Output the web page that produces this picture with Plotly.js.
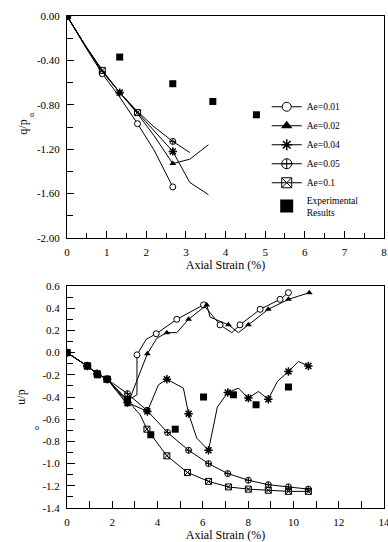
<!DOCTYPE html>
<html>
<head>
<meta charset="utf-8">
<script src="https://cdn.plot.ly/plotly-3.0.1.min.js"></script>
<style>html,body{margin:0;padding:0;background:#fff;}#chart{width:388px;height:542px;}</style>
</head>
<body>
<div id="chart"></div>
<script>
// ---------- DATA: top chart (q/p' vs axial strain) ----------
var seriesNames = ['Ae=0.01', 'Ae=0.02', 'Ae=0.04', 'Ae=0.05', 'Ae=0.1'];
var expName = 'Experimental<br>Results';

var top01X = [0, 0.45, 0.89, 1.33, 1.78, 2.2, 2.67];
var top01Y = [0, -0.27, -0.52, -0.73, -0.97, -1.21, -1.54];
var top01M = [1, 0, 1, 0, 1, 0, 1];

var top02X = [0, 0.45, 0.89, 1.33, 1.78, 2.2, 2.67, 3.1, 3.57];
var top02Y = [0, -0.26, -0.50, -0.69, -0.88, -1.08, -1.33, -1.29, -1.16];
var top02M = [1, 0, 0, 1, 0, 0, 1, 0, 0];

var top04X = [0, 0.45, 0.89, 1.33, 1.78, 2.2, 2.67, 3.1, 3.57];
var top04Y = [0, -0.26, -0.50, -0.69, -0.87, -1.04, -1.22, -1.50, -1.61];
var top04M = [1, 0, 0, 1, 0, 0, 1, 0, 0];

var top05X = [0, 0.45, 0.89, 1.33, 1.78, 2.2, 2.67, 3.1];
var top05Y = [0, -0.26, -0.49, -0.69, -0.86, -1.00, -1.13, -1.23];
var top05M = [1, 0, 0, 0, 0, 0, 1, 0];

var top10X = [0, 0.45, 0.89, 1.33, 1.78];
var top10Y = [0, -0.26, -0.49, -0.69, -0.87];
var top10M = [1, 0, 1, 0, 1];

var topExpX = [0, 1.33, 2.67, 3.68, 4.78];
var topExpY = [0, -0.37, -0.61, -0.77, -0.89];

// ---------- DATA: bottom chart (u/p' vs axial strain) ----------
var bot01X = [0, 0.89, 1.33, 1.78, 2.67, 3.09, 3.09, 3.5, 3.94, 4.85, 6.03, 6.76, 7.28, 7.64, 8.53, 9.41, 9.78];
var bot01Y = [0, -0.12, -0.19, -0.24, -0.43, -0.38, -0.02, 0.12, 0.17, 0.30, 0.43, 0.25, 0.18, 0.25, 0.39, 0.48, 0.54];
var bot01M = [1, 1, 1, 1, 1, 0, 1, 0, 1, 1, 1, 1, 0, 1, 1, 1, 1];

var bot02X = [0, 0.89, 1.33, 1.78, 2.67, 3.55, 3.97, 4.41, 4.85, 5.37, 6.17, 6.32, 7.13, 7.57, 8.01, 8.89, 9.78, 10.7];
var bot02Y = [0, -0.12, -0.19, -0.24, -0.47, -0.01, 0.13, 0.18, 0.18, 0.30, 0.43, 0.32, 0.25, 0.18, 0.25, 0.39, 0.48, 0.54];
var bot02M = [1, 1, 1, 1, 1, 1, 0, 1, 0, 1, 1, 0, 1, 0, 1, 1, 1, 1];

var bot04X = [0, 0.89, 1.33, 1.78, 2.67, 3.55, 4.04, 4.41, 5.14, 5.37, 5.73, 6.25, 6.64, 7.1, 7.57, 8.01, 8.45, 8.89, 9.29, 9.78, 10.22, 10.66];
var bot04Y = [0, -0.12, -0.19, -0.24, -0.45, -0.53, -0.29, -0.24, -0.32, -0.55, -0.77, -0.88, -0.49, -0.36, -0.32, -0.41, -0.35, -0.42, -0.26, -0.17, -0.08, -0.12];
var bot04M = [1, 1, 1, 1, 1, 1, 0, 1, 0, 1, 0, 1, 0, 1, 0, 1, 0, 1, 0, 1, 0, 1];

var bot05X = [0, 0.89, 1.33, 1.78, 2.67, 3.53, 4.44, 5.37, 6.25, 7.1, 8.01, 8.89, 9.78, 10.66];
var bot05Y = [0, -0.12, -0.19, -0.24, -0.37, -0.52, -0.72, -0.88, -1.00, -1.09, -1.15, -1.19, -1.21, -1.23];
var bot05M = [1, 1, 1, 1, 1, 1, 1, 1, 1, 1, 1, 1, 1, 1];

var bot10X = [0, 0.89, 1.33, 1.78, 2.67, 3.23, 3.53, 4.41, 5.32, 6.25, 7.13, 8.01, 8.89, 9.78, 10.66];
var bot10Y = [0, -0.12, -0.19, -0.24, -0.43, -0.56, -0.69, -0.93, -1.08, -1.16, -1.21, -1.23, -1.24, -1.25, -1.25];
var bot10M = [1, 1, 1, 1, 1, 0, 1, 1, 1, 1, 1, 1, 1, 1, 1];

var botExpX = [0, 0.91, 1.35, 1.76, 2.67, 3.7, 4.78, 6.03, 7.35, 8.35, 9.78];
var botExpY = [0, -0.12, -0.20, -0.24, -0.42, -0.74, -0.69, -0.40, -0.38, -0.47, -0.31];

// ---------- tick labels ----------
var topXTickVals = [0, 1, 2, 3, 4, 5, 6, 7, 8];
var topXTickText = ['0', '1', '2', '3', '4', '5', '6', '7', '8'];
var topYTickVals = [0, -0.4, -0.8, -1.2, -1.6, -2.0];
var topYTickText = ['0.00', '-0.40', '-0.80', '-1.20', '-1.60', '-2.00'];
var botXTickVals = [0, 2, 4, 6, 8, 10, 12, 14];
var botXTickText = ['0', '2', '4', '6', '8', '10', '12', '14'];
var botYTickVals = [0.6, 0.4, 0.2, 0.0, -0.2, -0.4, -0.6, -0.8, -1.0, -1.2, -1.4];
var botYTickText = ['0.6', '0.4', '0.2', '0.0', '-0.2', '-0.4', '-0.6', '-0.8', '-1.0', '-1.2', '-1.4'];

// ---------- styles ----------
var FONT = "'Liberation Serif', 'Times New Roman', serif";
var styles = [
  {symbol: 'circle', color: '#fff', lc: '#000', lw: 1, size: 6, lsize: 9},
  {symbol: 'triangle-up', color: '#000', lc: '#000', lw: 0, size: 6, lsize: 10},
  {symbol: 'asterisk-open', color: '#000', lc: '#000', lw: 1.5, size: 7, lsize: 9},
  {symbol: 'circle-cross-open', color: '#000', lc: '#000', lw: 1, size: 6, lsize: 10},
  {symbol: 'square-x-open', color: '#000', lc: '#000', lw: 1, size: 6, lsize: 10}
];

function pick(arr, m) { return arr.filter(function (v, i) { return m[i]; }); }

var traces = [];
function addSeries(xs, ys, ms, st, xa, ya) {
  traces.push({x: xs, y: ys, xaxis: xa, yaxis: ya, mode: 'lines', showlegend: false,
    line: {color: '#000', width: 1}, hoverinfo: 'skip'});
  traces.push({x: pick(xs, ms), y: pick(ys, ms), xaxis: xa, yaxis: ya, mode: 'markers', showlegend: false,
    marker: {symbol: st.symbol, color: st.color, size: st.size, line: {color: st.lc, width: st.lw}}});
}

var topSets = [[top01X, top01Y, top01M], [top02X, top02Y, top02M], [top04X, top04Y, top04M], [top05X, top05Y, top05M], [top10X, top10Y, top10M]];
var botSets = [[bot01X, bot01Y, bot01M], [bot02X, bot02Y, bot02M], [bot04X, bot04Y, bot04M], [bot05X, bot05Y, bot05M], [bot10X, bot10Y, bot10M]];

topSets.forEach(function (s, i) { addSeries(s[0], s[1], s[2], styles[i], 'x', 'y'); });
botSets.forEach(function (s, i) { addSeries(s[0], s[1], s[2], styles[i], 'x3', 'y3'); });

traces.push({x: topExpX, y: topExpY, xaxis: 'x', yaxis: 'y', mode: 'markers', showlegend: false,
  marker: {symbol: 'square', color: '#000', size: 7}});
traces.push({x: botExpX, y: botExpY, xaxis: 'x3', yaxis: 'y3', mode: 'markers', showlegend: false,
  marker: {symbol: 'square', color: '#000', size: 7}});

// legend entries
seriesNames.forEach(function (n, i) {
  var st = styles[i];
  traces.push({x: [null], y: [null], xaxis: 'x', yaxis: 'y', mode: 'lines+markers', name: n, showlegend: true,
    line: {color: '#000', width: 1},
    marker: {symbol: st.symbol, color: st.color, size: st.lsize, line: {color: st.lc, width: st.lw}}});
});
traces.push({x: [null], y: [null], xaxis: 'x', yaxis: 'y', mode: 'markers', name: expName, showlegend: true,
  marker: {symbol: 'square', color: '#000', size: 13}});

var tf = {family: FONT, size: 11, color: '#000'};
function mainX(ov) {
  return Object.assign({showgrid: false, zeroline: false, showline: true, linecolor: '#000', linewidth: 1, mirror: true,
    ticks: 'inside', ticklen: 7, tickcolor: '#000', tickwidth: 1, tickmode: 'array', tickfont: tf,
    ticklabelstandoff: 4, ticklabeloverflow: 'allow', fixedrange: true}, ov);
}
function tickOnly(ov) {
  return Object.assign({showgrid: false, zeroline: false, showline: false, showticklabels: false,
    ticks: 'inside', tickcolor: '#000', tickwidth: 1, fixedrange: true}, ov);
}

var layout = {
  width: 388, height: 542,
  margin: {l: 67, r: 4, t: 16, b: 34},
  paper_bgcolor: '#fff', plot_bgcolor: '#fff',
  font: {family: FONT, color: '#000'},
  showlegend: true,
  legend: {x: 0.63, y: 0.845, xanchor: 'left', yanchor: 'top', bgcolor: 'rgba(0,0,0,0)',
    font: {family: FONT, size: 9.5, color: '#000'}, tracegroupgap: 0, itemclick: false},
  xaxis: mainX({domain: [0, 1], anchor: 'y', range: [0, 8], tickvals: topXTickVals, ticktext: topXTickText,
    minor: {tickvals: [0.5, 1.5, 2.5, 3.5, 4.5, 5.5, 6.5, 7.5], ticks: 'inside', ticklen: 5, tickcolor: '#000'},
    title: {text: 'Axial Strain (%)', font: {family: FONT, size: 12, color: '#000'}, standoff: 3}}),
  xaxis2: tickOnly({overlaying: 'x', anchor: 'y', side: 'top', range: [0, 14], dtick: 1, tick0: 0, ticklen: 7}),
  yaxis: mainX({domain: [0.5488, 1], anchor: 'x', range: [-2, 0], tickvals: topYTickVals, ticktext: topYTickText,
    ticklen: 7,
    minor: {tickvals: [-0.2, -0.6, -1.0, -1.4, -1.8], ticks: 'inside', ticklen: 6, tickcolor: '#000'},
    title: {text: 'q/p', font: {family: FONT, size: 12, color: '#000'}, standoff: 6}}),
  yaxis2: tickOnly({overlaying: 'y', anchor: 'x', side: 'right', range: [0, 14], dtick: 1, tick0: 0, ticklen: 9}),
  xaxis3: mainX({domain: [0, 1], anchor: 'y3', range: [0, 14], tickvals: botXTickVals, ticktext: botXTickText,
    minor: {tickvals: [1, 3, 5, 7, 9, 11, 13], ticks: 'inside', ticklen: 7, tickcolor: '#000'},
    title: {text: 'Axial Strain (%)', font: {family: FONT, size: 12, color: '#000'}, standoff: 3}}),
  xaxis4: tickOnly({overlaying: 'x3', anchor: 'y3', side: 'top', range: [0, 14], dtick: 1, tick0: 0, ticklen: 7}),
  yaxis3: mainX({domain: [0, 0.4512], anchor: 'x3', range: [-1.4, 0.6], tickvals: botYTickVals, ticktext: botYTickText,
    ticklen: 8,
    minor: {tickvals: [0.5, 0.3, 0.1, -0.1, -0.3, -0.5, -0.7, -0.9, -1.1, -1.3], ticks: 'inside', ticklen: 6, tickcolor: '#000'},
    title: {text: 'u/p', font: {family: FONT, size: 12, color: '#000'}, standoff: 14}}),
  yaxis4: tickOnly({overlaying: 'y3', anchor: 'x3', side: 'right', range: [-1.4, 0.6], dtick: 0.1, tick0: 0, ticklen: 7}),
  annotations: [
    {xref: 'paper', yref: 'paper', x: -0.122, y: 0.813, text: 'σ', showarrow: false,
      font: {family: FONT, size: 8, color: '#000'}},
    {xref: 'paper', yref: 'paper', x: -0.108, y: 0.15, text: 'o', showarrow: false,
      font: {family: FONT, size: 8, color: '#000'}}
  ]
};

Plotly.newPlot('chart', traces, layout, {staticPlot: true, displayModeBar: false});
</script>
</body>
</html>
